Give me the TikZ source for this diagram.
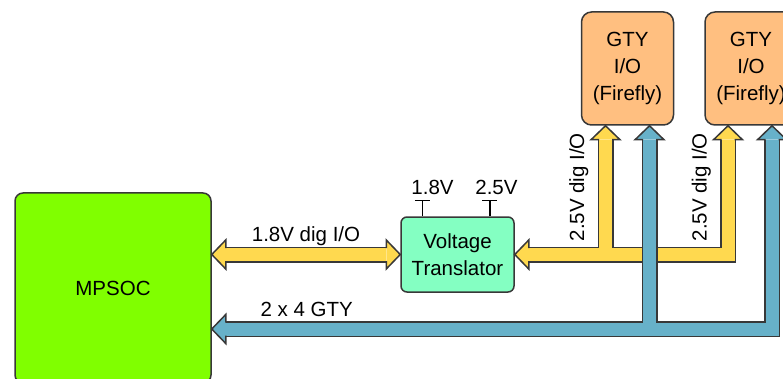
\documentclass[tikz,border=0pt]{standalone}
\usepackage{fontspec}
\setmainfont{Liberation Sans}
\usetikzlibrary{positioning,calc}
\definecolor{socgreen}{HTML}{80FF00}
\definecolor{transmint}{HTML}{84FFC2}
\definecolor{gtyorange}{HTML}{FFBF80}
\definecolor{digyellow}{HTML}{FFD94F}
\definecolor{gtyblue}{HTML}{67B1C9}
\definecolor{edgegray}{HTML}{383838}

\tikzset{
  bighead/.pic={
    \filldraw[pic actions] (-14,-6.5) -- (-14,-14.5) -- (0,0) -- (-14,14.5) -- (-14,6.5);
  }
}

\begin{document}
\begin{tikzpicture}[
    x=1pt, y=-1pt,
    font=\fontsize{20.5}{27}\selectfont,
    box/.style={rounded corners=8pt, draw=edgegray, line width=1.5pt,
                align=center, inner sep=0pt, text=black},
    soc/.style={box, fill=socgreen, minimum width=196pt, minimum height=190pt},
    xlat/.style={box, fill=transmint, minimum width=113pt, minimum height=75pt,
                 rounded corners=6pt},
    gty/.style={box, fill=gtyorange, minimum width=92pt, minimum height=113pt,
                rounded corners=10pt},
    shaft/.style={line width=16pt, draw=edgegray, line join=miter},
    yfill/.style={line width=13pt, draw=digyellow, line join=miter},
    bfill/.style={line width=13pt, draw=gtyblue, line join=miter},
    yhead/.style={fill=digyellow, draw=edgegray, line width=1.5pt, line join=miter},
    bhead/.style={fill=gtyblue, draw=edgegray, line width=1.5pt, line join=miter},
    pin/.style={draw=black, line width=1.5pt},
    lbl/.style={inner sep=0pt, text=black},
  ]
  \useasboundingbox (0,0) rectangle (783,379);
  \clip (0,0) rectangle (783,379);

  \node[soc] (mpsoc) at (113,288) {MPSOC};
  \node[xlat] (trans) at (457.5,254.5) {Voltage\\Translator};
  \node[gty] (gty1) at (627.5,68.5) {GTY\\I/O\\(Firefly)};
  \node[gty, right=30pt of gty1] (gty2) {GTY\\I/O\\(Firefly)};

  % supply pins
  \coordinate (pin18) at ($(trans.north west)+(22,0)$);
  \coordinate (pin25) at ($(trans.north east)+(-25,0)$);
  \draw[pin] (pin18) -- ++(0,-15.5) ++(-7.3,0) -- ++(14.6,0);
  \draw[pin] (pin25) -- ++(0,-15.5) ++(-7.3,0) -- ++(14.6,0);
  \node[lbl, anchor=base] (v18) at ($(pin18)+(10.3,-21.7)$) {1.8V};
  \node[lbl, anchor=base] (v25) at ($(pin25)+(6.7,-21.7)$) {2.5V};

  \coordinate (y18a) at (mpsoc.east |- trans.west);
  \coordinate (yb1) at ($(gty1.south)+(-22,0)$);
  \coordinate (yb2) at ($(gty2.south)+(-23,0)$);
  \coordinate (bbus) at ($(mpsoc.east)+(0,41)$);
  \coordinate (bb1) at ($(gty1.south)+(22,0)$);
  \coordinate (bb2) at ($(gty2.south)+(21,0)$);

  % 1.8V side
  \draw[shaft] ($(y18a)+(14,0)$) -- ($(trans.west)+(-14,0)$);
  \draw[yfill] ($(y18a)+(14,0)$) -- ($(trans.west)+(-14,0)$);
  \pic[yhead, rotate=180] at (y18a) {bighead};
  \pic[yhead] at (trans.west) {bighead};
  \node[lbl, anchor=base] (dig18) at ($(y18a)!0.5!(trans.west)+(0,-13)$) {1.8V dig I/O};

  % 2.5V side
  \draw[shaft] ($(trans.east)+(14,0)$) -| ($(yb2)+(0,14)$);
  \draw[shaft] ($(yb1)+(0,14)$) -- (yb1 |- trans.east);
  \draw[yfill] ($(trans.east)+(14,0)$) -| ($(yb2)+(0,14)$);
  \draw[yfill] ($(yb1)+(0,14)$) -- (yb1 |- trans.east);
  \pic[yhead, rotate=180] at (trans.east) {bighead};
  \pic[yhead, rotate=90] at (yb1) {bighead};
  \pic[yhead, rotate=90] at (yb2) {bighead};
  \node[lbl, anchor=base, rotate=90] (dig25a) at ($(yb1)+(-21.5,61.5)$) {2.5V dig I/O};
  \node[lbl, anchor=base, rotate=90] (dig25b) at ($(yb2)+(-21.5,61.5)$) {2.5V dig I/O};

  % GTY lanes
  \draw[shaft] ($(bbus)+(14,0)$) -| ($(bb2)+(0,14)$);
  \draw[shaft] ($(bb1)+(0,14)$) -- (bb1 |- bbus);
  \draw[bfill] ($(bbus)+(14,0)$) -| ($(bb2)+(0,14)$);
  \draw[bfill] ($(bb1)+(0,14)$) -- (bb1 |- bbus);
  \pic[bhead, rotate=180] at (bbus) {bighead};
  \pic[bhead, rotate=90] at (bb1) {bighead};
  \pic[bhead, rotate=90] at (bb2) {bighead};
  \node[lbl, anchor=base] (gtylanes) at ($(bbus)+(95,-12.3)$) {2 x 4 GTY};
\end{tikzpicture}
\end{document}
